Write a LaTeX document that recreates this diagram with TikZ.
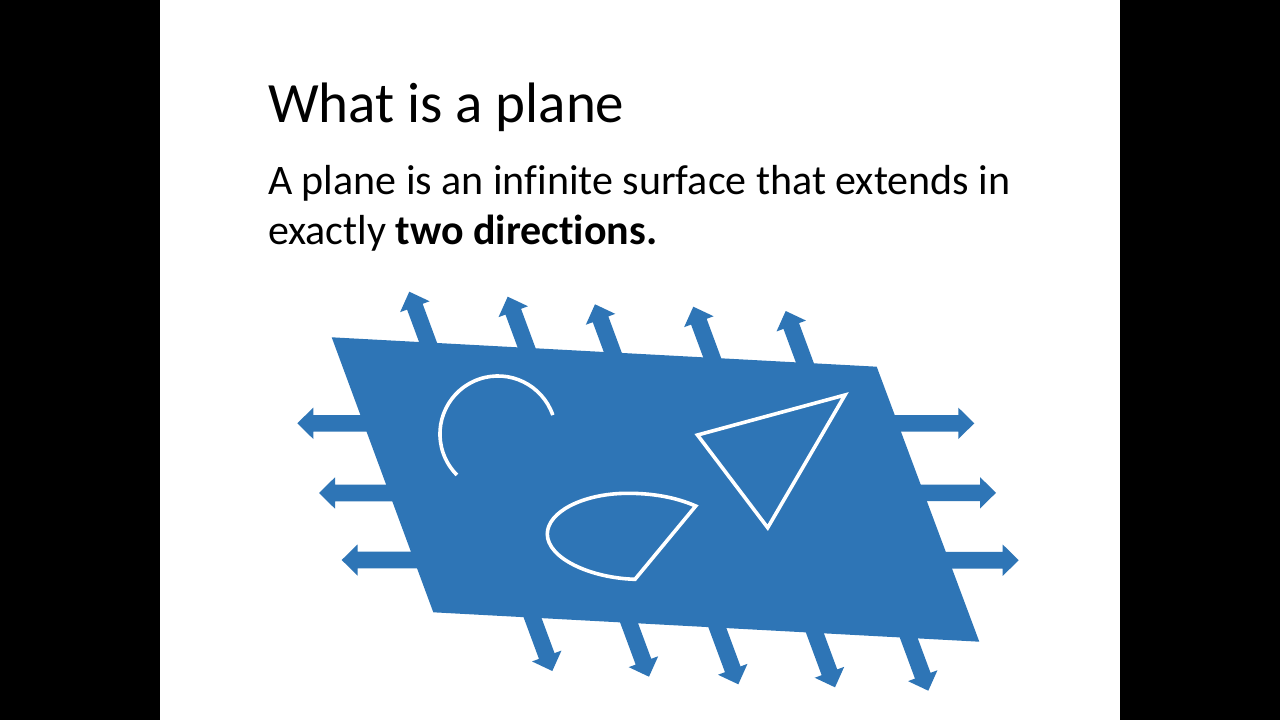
\documentclass[tikz,border=0pt]{standalone}
\usepackage{fontspec}
\setmainfont{Carlito}[Ligatures=NoCommon]
\definecolor{planeblue}{RGB}{46,117,182}
\tikzset{
  planefill/.style={fill=planeblue},
  figline/.style={draw=white, line width=3.6pt, line join=miter},
  slidetext/.style={anchor=base west, inner sep=0pt, outer sep=0pt, text=black},
}
% tip position, direction angle (page), length
\newcommand\planearrow[3]{%
  \fill[planefill, shift={(#1)}, rotate=#2]
    (-#3,-8.3) -- (-16,-8.3) -- (-16,-15.7) -- (0,0) -- (-16,15.7) -- (-16,8.3) -- (-#3,8.3) -- cycle;}
\begin{document}
\begin{tikzpicture}[x=1pt,y=-1pt]
\useasboundingbox (0,0) rectangle (1280,720);
\fill[black] (0,0) rectangle (1280,720);
\fill[white] (160,0) rectangle (1120,720);

% texts
\node[slidetext, font=\fontsize{57}{64}\selectfont] (title) at (268,122.7) {What is a plane};
\node[slidetext, font=\fontsize{42}{50}\selectfont] (line1) at (268,194) {A plane is an infinite surface that extends in};
\node[slidetext, font=\fontsize{42}{50}\selectfont] (line2) at (268,244) {exactly \textbf{two directions.}};

% arrows (drawn below the plane)
\planearrow{409.3,291.7}{110.3}{80}
\planearrow{507.7,296.7}{110.3}{80}
\planearrow{595,304.3}{110.3}{80}
\planearrow{693.3,306.7}{110.3}{80}
\planearrow{785.7,311}{110.3}{80}

\planearrow{552.3,671}{-69.7}{80}
\planearrow{649,676.7}{-69.7}{80}
\planearrow{738.3,684.3}{-69.7}{80}
\planearrow{835,687.3}{-69.7}{80}
\planearrow{928.3,690.7}{-69.7}{80}

\planearrow{297.3,423.3}{180}{80}
\planearrow{319,493}{180}{80}
\planearrow{341.7,560}{180}{80}

\planearrow{974.3,423.3}{0}{80}
\planearrow{996,492.8}{0}{80}
\planearrow{1018.7,560.2}{0}{80}

% the plane
\fill[planefill] (331.7,337.3) -- (876.7,366.7) -- (979.3,641.7) -- (433.3,612.3) -- cycle;

% figures on the plane
\draw[figline] (552.8,415.1) arc[start angle=-19, end angle=-225, radius=58];
\draw[figline] (697.5,435) -- (845,395) -- (767.7,527.7) -- cycle;
\draw[figline] (695.7,506) .. controls (675,497) and (652,493.2) .. (627,493.3)
  .. controls (583,493.5) and (547.3,512) .. (547.3,534)
  .. controls (547.3,558) and (590,578) .. (635,579.3) -- cycle;
\end{tikzpicture}
\end{document}
